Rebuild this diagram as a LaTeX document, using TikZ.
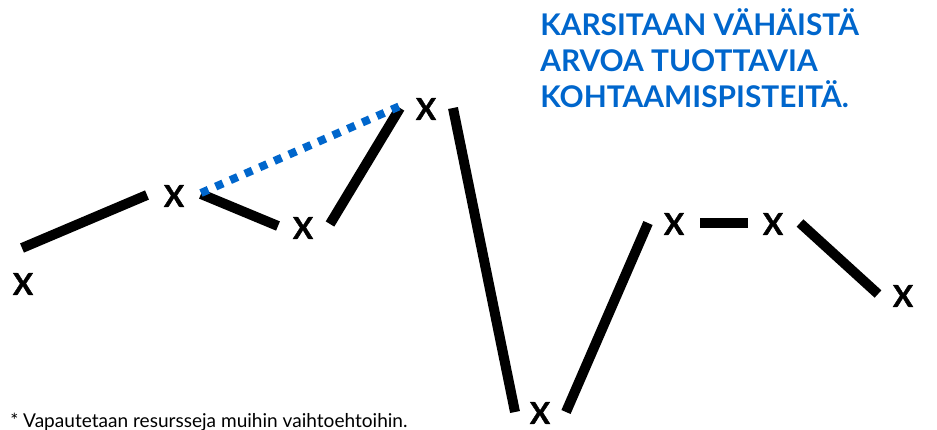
\documentclass[tikz,border=0pt]{standalone}
\usepackage{fontspec}
\setmainfont{Lato}
\newfontfamily\xfont{Lato}[FakeBold=1.2]
\definecolor{tblue}{HTML}{0066CC}
\begin{document}
\begin{tikzpicture}[x=0.75pt,y=-0.75pt,
  xmark/.style={inner sep=0pt,font=\xfont\bfseries\fontsize{22.5}{23}\selectfont},
  stroke/.style={line width=7.5pt,line cap=butt,black},
  dotline/.style={line width=6pt,tblue,dash pattern=on 6pt off 6pt},
  title/.style={anchor=base west,inner sep=0pt,text=tblue,font=\bfseries\fontsize{22.4}{27}\selectfont},
  foot/.style={anchor=base west,inner sep=0pt,font=\fontsize{14.3}{16}\selectfont}]
\useasboundingbox (0,0) rectangle (937,429);
% X labels
\node[xmark] (x1) at (23,284) {X};
\node[xmark] (x2) at (174,196) {X};
\node[xmark] (x3) at (303,228) {X};
\node[xmark] (x4) at (426,109) {X};
\node[xmark] (x5) at (540,413) {X};
\node[xmark] (x6) at (674,224) {X};
\node[xmark] (x7) at (773,224) {X};
\node[xmark] (x8) at (903,296) {X};
% stroke ends
\coordinate (a1) at (22,248);  \coordinate (a2) at (147,195);
\coordinate (b1) at (201,194); \coordinate (b2) at (278,226);
\coordinate (c1) at (330,224); \coordinate (c2) at (400,108);
\coordinate (d1) at (453,108); \coordinate (d2) at (515,412);
\coordinate (e1) at (566,412); \coordinate (e2) at (648,223);
\coordinate (f1) at (700,223); \coordinate (f2) at (748,223);
\coordinate (g1) at (800,223); \coordinate (g2) at (878,294);
\coordinate (h1) at (201,193); \coordinate (h2) at (400,106);
% strokes
\draw[stroke] (a1) -- (a2);
\draw[stroke] (b1) -- (b2);
\draw[stroke] (c1) -- (c2);
\draw[stroke] (d1) -- (d2);
\draw[stroke] (e1) -- (e2);
\draw[stroke] (f1) -- (f2);
\draw[stroke] (g1) -- (g2);
\draw[dotline] (h1) -- (h2);
% title
\node[title] (t1) at (540,35) {KARSITAAN VÄHÄISTÄ};
\node[title] (t2) at (540,71) {ARVOA TUOTTAVIA};
\node[title] (t3) at (540,107) {KOHTAAMISPISTEITÄ.};
% footnote
\node[foot] (fn) at (10,427) {* Vapautetaan resursseja muihin vaihtoehtoihin.};
\end{tikzpicture}
\end{document}
